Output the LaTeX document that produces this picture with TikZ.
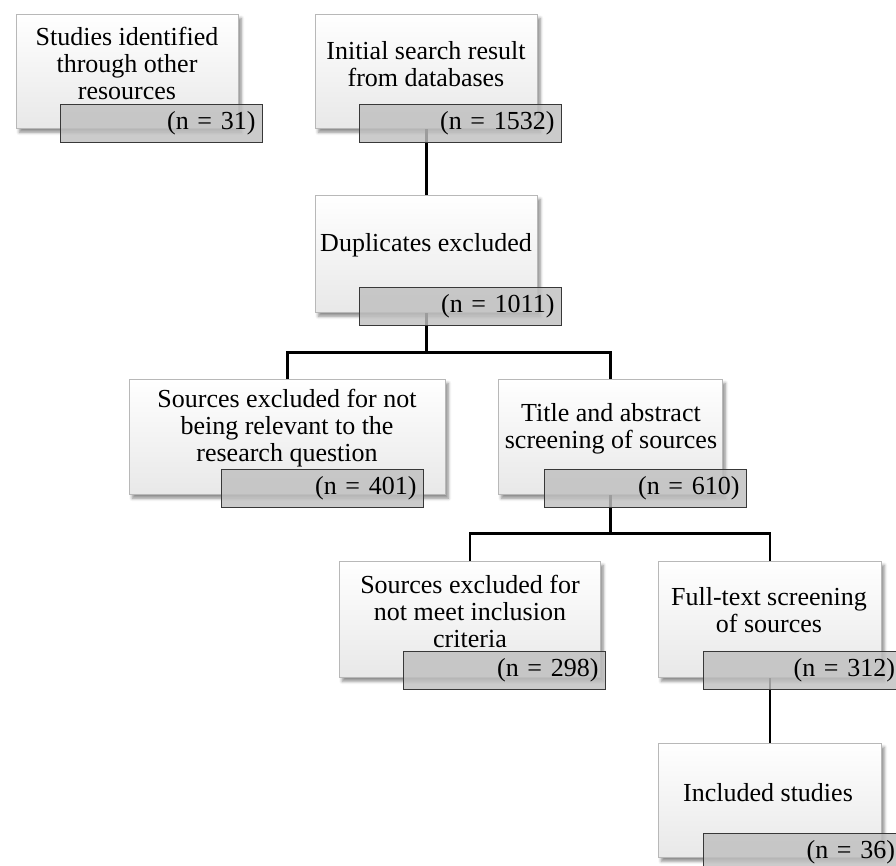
\documentclass[tikz,border=0pt]{standalone}
\usepackage{fontspec}
\setmainfont{Liberation Serif}
\usetikzlibrary{shadows.blur}
\pgfdeclarelayer{bg}
\pgfsetlayers{bg,main}
\begin{document}
\begin{tikzpicture}[x=1pt,y=-1pt,
  whitebox/.style={draw=black!28, line width=0.6pt, top color=white, middle color=white, bottom color=black!9,
    blur shadow={shadow xshift=3pt, shadow yshift=-4pt, shadow blur radius=3pt, shadow opacity=45},
    anchor=north west, inner sep=0pt},
  graybox/.style={draw=black!78, line width=0.9pt, fill=black!25, fill opacity=0.82, text opacity=1,
    anchor=north west, inner xsep=7pt, inner ysep=0pt, text width=188pt, minimum height=38pt,
    align=right, font=\fontsize{26}{27}\selectfont},
  edgebox/.style={graybox, inner xsep=10.5pt, text width=181pt},
  lbl/.style={align=center, font=\fontsize{26}{27}\selectfont, inner sep=0pt},
  link/.style={line width=2.6pt, black}]
\clip (0,0) rectangle (896,865);

% white boxes
\node[whitebox, minimum width=222pt, minimum height=114pt] (w1) at (16,14) {};
\node[whitebox, minimum width=222pt, minimum height=114pt] (w2) at (315,14) {};
\node[whitebox, minimum width=222pt, minimum height=117pt] (w3) at (315,195) {};
\node[whitebox, minimum width=316pt, minimum height=115pt] (w4) at (129,379) {};
\node[whitebox, minimum width=224pt, minimum height=115pt] (w5) at (498,379) {};
\node[whitebox, minimum width=261pt, minimum height=116pt] (w6) at (339,561) {};
\node[whitebox, minimum width=223pt, minimum height=116pt] (w7) at (658,561) {};
\node[whitebox, minimum width=223pt, minimum height=114pt] (w8) at (658,743) {};

% texts
\node[lbl] (t1) at (127,63) {Studies identified\\through other\\resources};
\node[lbl] (t2) at (426,64) {Initial search result\\from databases};
\node[lbl] (t3) at (426,245) {Duplicates excluded};
\node[lbl] (t4) at (287,428) {Sources excluded for not\\being relevant to the\\research question};
\node[lbl] (t5) at (611,429) {Title and abstract\\screening of sources};
\node[lbl] (t6) at (470,611) {Sources excluded for\\not meet inclusion\\criteria};
\node[lbl] (t7) at (769,610) {Full-text screening\\of sources};
\node[lbl] (t8) at (768,793) {Included studies};

% connectors
\begin{pgfonlayer}{bg}
\draw[link] (w2.south) -- (w3.north);
\draw[link] (w3.south) -- ++(0,40) -| (w4.north);
\draw[link] (w3.south) -- ++(0,40) -| (w5.north);
\draw[link] (w5.south) -- ++(0,39) -| (w6.north);
\draw[link] (w5.south) -- ++(0,39) -| (w7.north);
\draw[link] (w7.south) -- (w8.north);
\end{pgfonlayer}

% count boxes
\node[graybox] (g1) at (60,104) {(n = 31)};
\node[graybox] (g2) at (359,104) {(n = 1532)};
\node[graybox] (g3) at (359,287) {(n = 1011)};
\node[graybox] (g4) at (221,469) {(n = 401)};
\node[graybox] (g5) at (544,469) {(n = 610)};
\node[graybox] (g6) at (403,651) {(n = 298)};
\node[edgebox] (g7) at (703,651) {(n = 312)};
\node[edgebox] (g8) at (703,833) {(n = 36)};
\end{tikzpicture}
\end{document}
